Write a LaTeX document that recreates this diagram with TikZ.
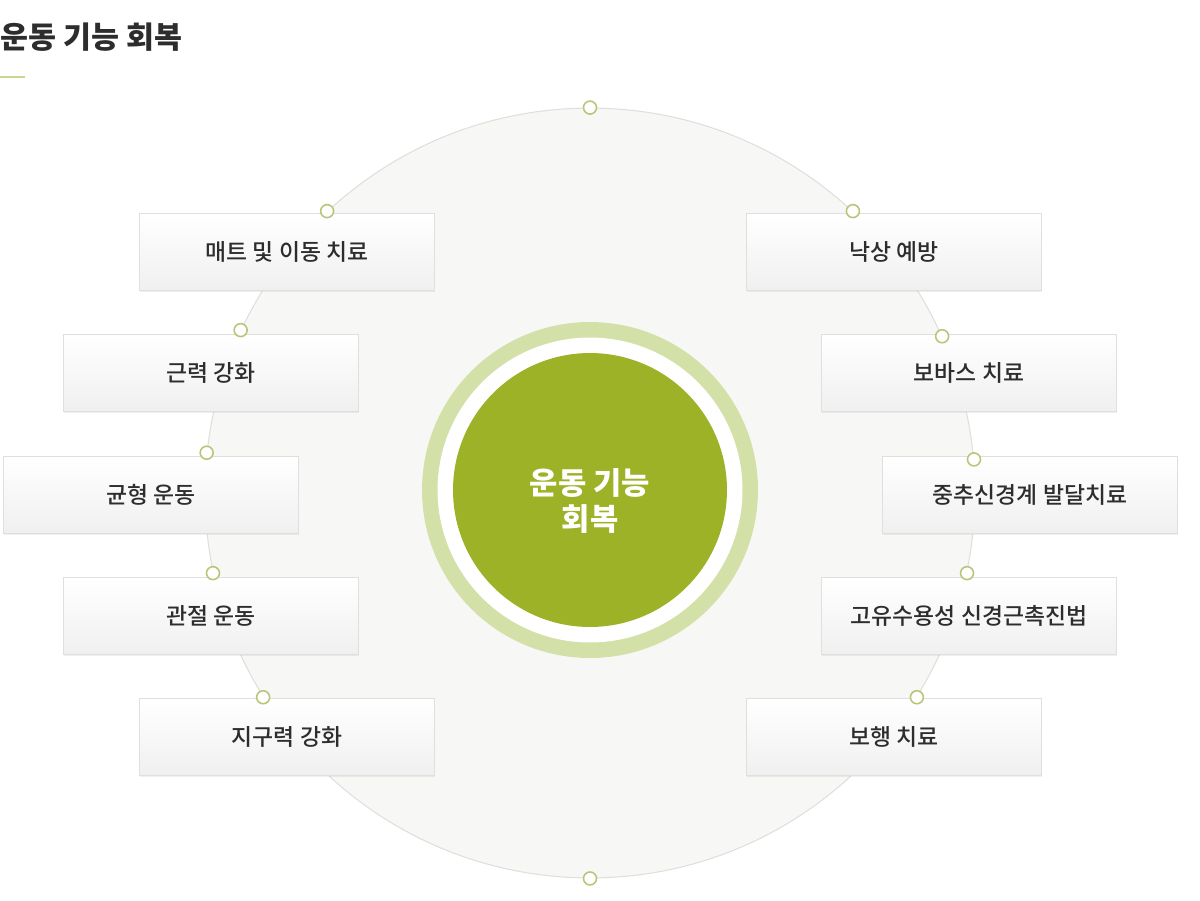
\documentclass[tikz,border=0pt]{standalone}
\usepackage{fontspec}
\setmainfont{Noto Sans CJK KR}
\newfontfamily\krmed{Noto Sans CJK KR Medium}
\usepackage{xcolor}
\usepackage{tikz}
\usetikzlibrary{shadows}

\definecolor{leaf}{RGB}{157,178,38}
\definecolor{leaflight}{RGB}{211,224,168}
\definecolor{dotline}{RGB}{186,197,122}
\definecolor{textgrey}{RGB}{45,45,45}
\definecolor{paper}{RGB}{247,247,246}
\definecolor{rim}{RGB}{223,223,221}

\tikzset{
  item/.style={draw=rim, line width=0.5pt, top color=white, bottom color=black!6,
    minimum width=5.9cm, minimum height=1.54cm, inner sep=0pt,
    font=\krmed\fontsize{13pt}{15pt}\selectfont, text=textgrey,
    drop shadow={shadow xshift=0.4pt, shadow yshift=-0.9pt, opacity=0.12}},
  dot/.style={circle, draw=dotline, fill=white, line width=0.9pt,
    minimum size=0.26cm, inner sep=0pt},
}

\begin{document}
\begin{tikzpicture}[x=0.02cm, y=-0.02cm]
\useasboundingbox (0,0) rectangle (1200,900);

% Title
\node[anchor=west, inner sep=0pt, text=textgrey,
  font=\fontsize{17.3pt}{19pt}\selectfont\bfseries] (title) at (0,37) {운동 기능 회복};
\draw[leaflight!80!leaf, line width=0.8pt] (0,77) -- (25,77);

% Background circle
\node[circle, draw=rim, fill=paper, line width=0.6pt, minimum size=15.4cm] (ring) at (590,493) {};

% Centre
\node[circle, fill=leaflight, minimum size=6.72cm] (halo) at (590,490) {};
\node[circle, fill=white, minimum size=6.1cm] (gap) at (halo) {};
\node[circle, fill=leaf, minimum size=5.48cm] (core) at (halo) {};
\node[text=white, align=center, font=\fontsize{17.5pt}{21pt}\selectfont\bfseries] (core-label) at (590,501) {운동 기능\\회복};

% Items
\foreach \n/\x/\y/\txt in {l1/287/252/매트 및 이동 치료, l2/211/373/근력 강화, l3/151/495/균형 운동,
  l4/211/616/관절 운동, l5/287/737/지구력 강화,
  r1/894/252/낙상 예방, r2/969/373/보바스 치료, r3/1030/495/중추신경계 발달치료,
  r4/969/616/고유수용성 신경근촉진법, r5/894/737/보행 치료} {
    \node[item] (\n) at (\x,\y) {\txt};
}

% Dots on the circle
\foreach \n/\a in {top/90, r1/47, r2/24.5, r3/5.6, r4/-12.6, r5/-32.2,
  bottom/270, l1/133.2, l2/155.3, l3/174.4, l4/192.5, l5/212} {
    \node[dot] (dot-\n) at (ring.\a) {};
}
\end{tikzpicture}
\end{document}
